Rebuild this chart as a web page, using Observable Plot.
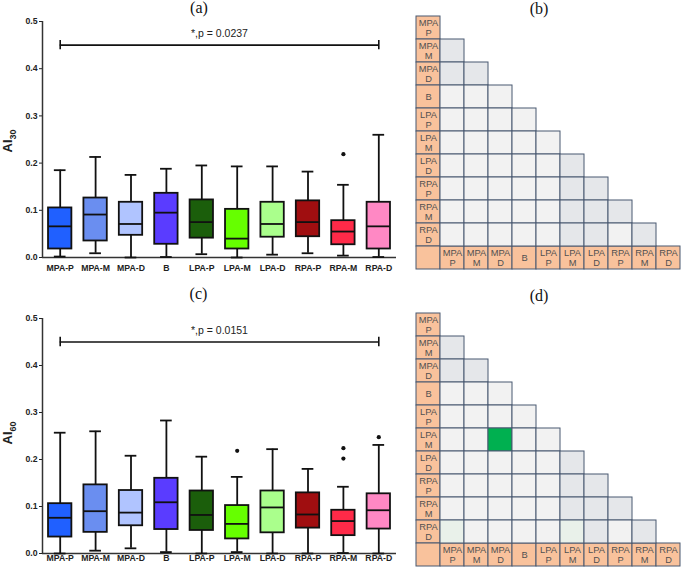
<!DOCTYPE html>
<html><head><meta charset="utf-8">
<script src="https://cdn.jsdelivr.net/npm/d3@7"></script>
<script src="https://cdn.jsdelivr.net/npm/@observablehq/plot@0.6"></script>
<style>
body{margin:0;background:#fff;}
#root{position:relative;width:685px;height:568px;overflow:hidden;font-family:"Liberation Sans",Arial,sans-serif;color:#222;}
.panel{position:absolute;}
.ptitle{position:absolute;font-family:"Liberation Serif","Times New Roman",serif;font-size:16px;line-height:16px;transform:translateX(-50%);white-space:nowrap;color:#111;}
.ylab{position:absolute;font-weight:bold;font-size:13px;transform:translate(-50%,-50%) rotate(-90deg);white-space:nowrap;color:#222;}
.ylab sub{font-size:9px;}
</style></head>
<body><div id="root"></div>
<script>
// ---------- data ----------
const categories = ["MPA-P","MPA-M","MPA-D","B","LPA-P","LPA-M","LPA-D","RPA-P","RPA-M","RPA-D"];
const boxColors = ["#2060ff","#6a8ef0","#b0c4ff","#5a3cff","#1b5e0b","#66ff00","#aaff8c","#a00e10","#ff2a48","#ff88c4"];

const ai30Min    = [0.002,0.009,0.000,0.001,0.007,0.000,0.006,0.009,0.004,0.001];
const ai30Q1     = [0.018,0.035,0.047,0.028,0.041,0.018,0.043,0.044,0.027,0.018];
const ai30Median = [0.066,0.091,0.071,0.095,0.075,0.040,0.071,0.075,0.055,0.066];
const ai30Q3     = [0.105,0.126,0.117,0.136,0.122,0.102,0.117,0.120,0.078,0.117];
const ai30Max    = [0.185,0.213,0.175,0.188,0.195,0.193,0.193,0.182,0.154,0.260];
const ai30Outliers = [["RPA-M",0.219]];
const ai30Test = ["MPA-P","RPA-D",0.45,"*,p = 0.0237"];

const ai60Min    = [0.000,0.006,0.011,0.003,0.000,0.003,0.000,0.000,0.001,0.000];
const ai60Q1     = [0.035,0.045,0.059,0.051,0.049,0.031,0.044,0.054,0.038,0.052];
const ai60Median = [0.076,0.090,0.087,0.109,0.082,0.063,0.098,0.083,0.069,0.092];
const ai60Q3     = [0.106,0.146,0.134,0.160,0.133,0.102,0.133,0.129,0.092,0.127];
const ai60Max    = [0.257,0.260,0.208,0.283,0.206,0.163,0.222,0.180,0.142,0.231];
const ai60Outliers = [["LPA-M",0.2185],["RPA-M",0.224],["RPA-M",0.202],["RPA-D",0.2475]];
const ai60Test = ["MPA-P","RPA-D",0.45,"*,p = 0.0151"];

const yTicks = [0,0.1,0.2,0.3,0.4,0.5];

// matrix shading: [row, column]
const shadedPairsB = [["MPA-M","MPA-P"],["MPA-D","MPA-P"],["MPA-D","MPA-M"],["LPA-D","LPA-M"],["RPA-P","LPA-M"],["RPA-P","LPA-D"],["RPA-M","LPA-M"],["RPA-M","LPA-D"],["RPA-M","RPA-P"],["RPA-D","LPA-M"],["RPA-D","LPA-D"],["RPA-D","RPA-M"]];
const shadedPairsD = [["MPA-M","MPA-P"],["MPA-D","MPA-P"],["MPA-D","MPA-M"],["LPA-D","LPA-M"],["RPA-P","LPA-M"],["RPA-P","LPA-D"],["RPA-M","LPA-M"],["RPA-M","LPA-D"],["RPA-M","RPA-P"],["RPA-D","LPA-D"],["RPA-D","RPA-M"]];
const significantPairsD = [["LPA-M","MPA-D"]];
const faintPairsD = [["RPA-D","MPA-P"],["RPA-D","LPA-M"]];

// ---------- drawing ----------
const root = document.getElementById("root");
function place(el, left, top){ el.classList.add("panel"); el.style.left = left+"px"; el.style.top = top+"px"; root.appendChild(el); }
function addTitle(text, cx, top){ const d=document.createElement("div"); d.className="ptitle"; d.textContent=text; d.style.left=cx+"px"; d.style.top=top+"px"; root.appendChild(d); }
function addYLabel(sub, cx, cy){ const d=document.createElement("div"); d.className="ylab"; d.innerHTML="AI<sub>"+sub+"</sub>"; d.style.left=cx+"px"; d.style.top=cy+"px"; root.appendChild(d); }

function boxPanel({min,q1,median,q3,max,outliers,test,height,marginTop,marginBottom,tickPadding}){
  const idx = new Map(categories.map((c,i)=>[c,i]));
  const stats = categories.map((c,i)=>({c,i,min:min[i],q1:q1[i],median:median[i],q3:q3[i],max:max[i],color:boxColors[i]}));
  const outs = outliers.map(([c,v])=>({i:idx.get(c),v}));
  const bracket = [{x1:idx.get(test[0]), x2:idx.get(test[1]), y:test[2], label:test[3]}];
  const hw = 0.33, cw = 0.165, sw = 1.8, ink = "#111";
  const x0 = -0.5;
  return Plot.plot({
    width:400, height, marginTop, marginBottom, marginLeft:42, marginRight:4,
    style:{fontFamily:"'Liberation Sans', Arial, sans-serif", fontSize:"8.7px", fontWeight:"bold", color:"#222", background:"transparent", overflow:"visible"},
    x:{domain:[x0, categories.length-0.5], ticks:categories.map((c,i)=>i), tickFormat:i=>categories[i], tickSize:0, tickPadding, label:null},
    y:{domain:[0,0.5], ticks:yTicks, tickFormat:d3.format(".1f"), tickSize:3, tickPadding:2, label:null},
    marks:[
      Plot.ruleX([x0], {y1:0, y2:0.5, stroke:"#333", strokeWidth:1.5}),
      Plot.ruleY([0], {stroke:"#333", strokeWidth:1.5}),
      Plot.ruleX(stats, {x:"i", y1:"q3", y2:"max", stroke:ink, strokeWidth:sw}),
      Plot.ruleX(stats, {x:"i", y1:"min", y2:"q1", stroke:ink, strokeWidth:sw}),
      Plot.ruleY(stats, {y:"max", x1:d=>d.i-cw, x2:d=>d.i+cw, stroke:ink, strokeWidth:sw}),
      Plot.ruleY(stats, {y:"min", x1:d=>d.i-cw, x2:d=>d.i+cw, stroke:ink, strokeWidth:sw}),
      Plot.rectY(stats, {x1:d=>d.i-hw, x2:d=>d.i+hw, y1:"q1", y2:"q3", fill:"color", stroke:ink, strokeWidth:sw}),
      Plot.ruleY(stats, {y:"median", x1:d=>d.i-hw, x2:d=>d.i+hw, stroke:ink, strokeWidth:sw}),
      Plot.dot(outs, {x:"i", y:"v", r:2.1, fill:ink, stroke:"none"}),
      Plot.ruleY(bracket, {y:"y", x1:"x1", x2:"x2", stroke:ink, strokeWidth:1.6}),
      Plot.ruleX(bracket, {x:"x1", y1:d=>d.y-0.01, y2:d=>d.y+0.01, stroke:ink, strokeWidth:1.6}),
      Plot.ruleX(bracket, {x:"x2", y1:d=>d.y-0.01, y2:d=>d.y+0.01, stroke:ink, strokeWidth:1.6}),
      Plot.text(bracket, {x:d=>(d.x1+d.x2)/2, y:"y", text:"label", dy:-11, fontSize:10.5, fontWeight:"normal", fill:"#222"})
    ]
  });
}

function matrixPanel({height, marginTop, marginBottom, shaded, significant, faint}){
  const H = "hdr";
  const key = (a,b)=>a+"|"+b;
  const shadedSet = new Set(shaded.map(([r,c])=>key(r,c)));
  const sigSet = new Set(significant.map(([r,c])=>key(r,c)));
  const faintSet = new Set(faint.map(([r,c])=>key(r,c)));
  const lab = s => s.split("-").join("\n");
  const cells = [];
  categories.forEach(r=>cells.push({x:H, y:r, fill:"#f9c29c", text:lab(r)}));
  cells.push({x:H, y:H, fill:"#f9c29c", text:""});
  categories.forEach(c=>cells.push({x:c, y:H, fill:"#f9c29c", text:lab(c)}));
  categories.forEach((r,ri)=>categories.forEach((c,ci)=>{
    if (ci<ri){
      const k = key(r,c);
      const fill = sigSet.has(k) ? "#00b050" : faintSet.has(k) ? "#e9f1ea" : shadedSet.has(k) ? "#e5e7ea" : "#f2f2f2";
      cells.push({x:c, y:r, fill, text:""});
    }
  }));
  return Plot.plot({
    width:285, height, marginTop, marginBottom, marginLeft:13, marginRight:2,
    style:{fontFamily:"'Liberation Sans', Arial, sans-serif", background:"transparent", overflow:"visible"},
    x:{domain:[H, ...categories], axis:null, padding:0},
    y:{domain:[...categories, H], axis:null, padding:0},
    color:{type:"identity"},
    marks:[
      Plot.cell(cells, {x:"x", y:"y", fill:"fill", stroke:"#485870", strokeWidth:1, inset:0}),
      Plot.text(cells.filter(d=>d.text), {x:"x", y:"y", text:"text", fontSize:9.3, lineHeight:1.05, fill:"#505050"})
    ]
  });
}

place(boxPanel({min:ai30Min,q1:ai30Q1,median:ai30Median,q3:ai30Q3,max:ai30Max,outliers:ai30Outliers,test:ai30Test,height:280,marginTop:21,marginBottom:23,tickPadding:7}), 0, 0);
place(boxPanel({min:ai60Min,q1:ai60Q1,median:ai60Median,q3:ai60Q3,max:ai60Max,outliers:ai60Outliers,test:ai60Test,height:288,marginTop:38,marginBottom:15,tickPadding:1.5}), 0, 280);
place(matrixPanel({height:280, marginTop:15, marginBottom:10, shaded:shadedPairsB, significant:[], faint:[]}), 400, 0);
place(matrixPanel({height:288, marginTop:32, marginBottom:1, shaded:shadedPairsD, significant:significantPairsD, faint:faintPairsD}), 400, 280);

addTitle("(a)", 199, 0);
addTitle("(b)", 539, 1);
addTitle("(c)", 198.5, 286);
addTitle("(d)", 539, 288);
addYLabel("30", 9, 141);
addYLabel("60", 9, 432.5);
</script>
</body></html>
